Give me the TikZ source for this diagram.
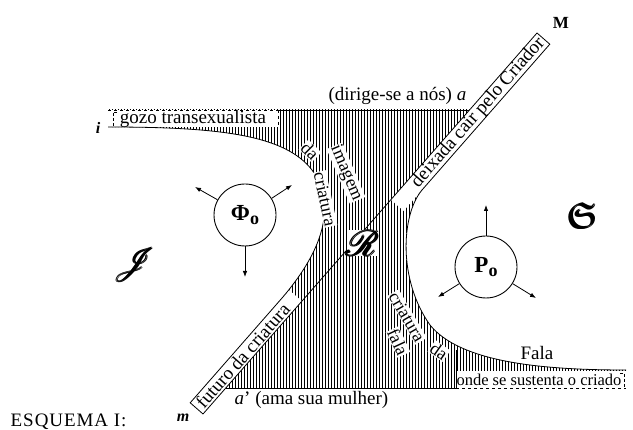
\documentclass[tikz,border=0pt]{standalone}
\usepackage{amsmath}
\usepackage{amssymb}
\usepackage{mathrsfs}
\usepackage{fontspec}
\setmainfont{Liberation Serif}
\usetikzlibrary{arrows.meta, calc}
\tikzset{
  schtext/.style={font=\fontsize{19}{21}\selectfont, inner sep=0.5pt},
  curvetext/.style={font=\fontsize{18}{20}\selectfont, fill=white, inner sep=0.6pt},
  rim/.style={line width=0.8pt},
  hatch/.style={line width=0.75pt},
  ray/.style={-{Latex[length=6pt,width=4.5pt]}, line width=0.8pt},
  pole/.style={circle, draw, line width=0.9pt, minimum size=62pt,
    inner sep=0pt, font=\fontsize{23}{25}\selectfont\bfseries},
  ptlabel/.style={font=\fontsize{16}{16}\selectfont\bfseries\itshape, inner sep=0pt},
  realm/.style={inner sep=0pt}
}
\begin{document}
\begin{tikzpicture}[x=1pt,y=1pt]
  \useasboundingbox (0,0) rectangle (633,-430);
  % main line m--M
  \coordinate (A) at (203,-414);
  \coordinate (B) at (537,-33);
  % hatched field between the two branches
  \begin{scope}
    \clip (108,-110) rectangle (626,-388);
    \clip (0,-127) -- (108,-127)
      .. controls (220,-127) and (285,-135) .. (312,-170)
      .. controls (340,-210) and (317,-257) .. (282.5,-297.5)
      -- (150.7,-448) -- (700,-448) -- (700,-370) -- (626,-370)
      .. controls (540,-370) and (460,-362) .. (430,-325)
      .. controls (398,-280) and (401,-215) .. (422,-190)
      -- (588.5,0) -- (0,0) -- cycle;
    \foreach \hx in {109,112,...,626}
      \draw[hatch] (\hx,-105) -- (\hx,-392);
  \end{scope}
  % white bands
  \fill[white] (108,-110) rectangle (278,-127);
  \fill[white] (456,-371) rectangle (626,-388);
  \fill[white] (390.8,-199.7) -- (B) -- (549.8,-44.2) -- (403.6,-210.9) -- cycle;
  \fill[white] (201.7,-415.5) -- (301.9,-301.2) -- (289.1,-290) -- (188.9,-404.3) -- cycle;
  % frame lines
  \draw[thin, dashed] (108,-110) -- (278,-110);
  \draw[rim] (278,-110) -- (469.4,-110);
  \draw[thin, dashed] (278,-110) -- (278,-127);
  \draw[thin, densely dashed] (117,-112) -- (113,-112) -- (113,-126);
  \draw[rim] (225.8,-388) -- (456,-388);
  \draw[thin, dashed] (456,-388) -- (626,-388);
  \draw[thin] (456,-350) -- (456,-388);
  \draw[thin, densely dashed] (620,-373) -- (624,-373) -- (624,-387);
  % branches
  \draw[rim] (108,-127)
      .. controls (220,-127) and (285,-135) .. (312,-170)
      .. controls (340,-210) and (317,-257) .. (282.5,-297.5)
      -- (190.2,-402.8) -- (A);
  \draw[rim] (B) -- (549.8,-44.2) -- (422,-190)
      .. controls (401,-215) and (398,-280) .. (430,-325)
      .. controls (460,-362) and (540,-370) .. (626,-370);
  \draw[rim] (A) -- (B);
  % band texts
  \node[schtext] (gozo) at (193,-118.5) {gozo transexualista};
  \node[schtext, font=\fontsize{16.5}{18}\selectfont] (criado) at (539,-379.5) {onde se sustenta o criado};
  \node[schtext, rotate=48.8] (criador) at (478.3,-112.8) {deixada cair pelo Criador};
  \node[schtext, rotate=48.8] (futuro) at (242.7,-355.8) {futuro da criatura};
  % texts along the branches
  \node[curvetext, rotate=-67] (imagem) at (346,-173) {imagem};
  \node[curvetext, rotate=-45] (daL) at (310,-151) {da};
  \node[curvetext, rotate=-78] (criaturaL) at (325,-199) {criatura};
  \node[curvetext, rotate=-60] (criaturaR) at (407,-317) {criatura};
  \node[curvetext, rotate=-35] (daR) at (439,-351) {da};
  \node[curvetext, rotate=-65] (fala) at (398,-342) {fala};
  % labels
  \node[schtext, anchor=base east] (dirige) at (467,-101) {(dirige-se a nós) \textit{a}};
  \node[schtext, anchor=base west] (ama) at (234,-405) {\textit{a}’ (ama sua mulher)};
  \node[schtext] (falaR) at (537,-353) {Fala};
  \node[schtext, anchor=base west] (esquema) at (10,-427)
    {\addfontfeature{LetterSpace=5}ESQUEMA I:};
  \node[ptlabel] (i) at (98,-128) {i};
  \node[ptlabel] (m) at (183,-418) {m};
  \node[ptlabel, font=\fontsize{17}{17}\selectfont\bfseries] (M) at (561,-23) {M};
  \node[realm, scale=3.4] (J) at (135,-265) {$\pmb{\mathscr{J}}$};
  \node[realm, scale=3.6] (S) at (583,-216) {$\pmb{\mathfrak{S}}$};
  \node[realm, scale=3.6, fill=white] (R) at (363,-243) {$\pmb{\mathscr{R}}$};
  % poles
  \node[pole] (phi) at (245,-215) {Φ\raisebox{-4pt}{\fontsize{18}{18}\selectfont o}};
  \node[pole] (po) at (486,-267) {P\raisebox{-4pt}{\fontsize{18}{18}\selectfont o}};
  \coordinate (phiA) at (195,-187);
  \coordinate (phiB) at (292,-185);
  \coordinate (phiC) at (245,-277);
  \coordinate (poA) at (486,-205);
  \coordinate (poB) at (438,-297);
  \coordinate (poC) at (536,-298);
  \draw[ray] (phi.151) -- (phiA);
  \draw[ray] (phi.32) -- (phiB);
  \draw[ray] (phi.270) -- (phiC);
  \draw[ray] (po.90) -- (poA);
  \draw[ray] (po.212) -- (poB);
  \draw[ray] (po.328) -- (poC);
\end{tikzpicture}
\end{document}
